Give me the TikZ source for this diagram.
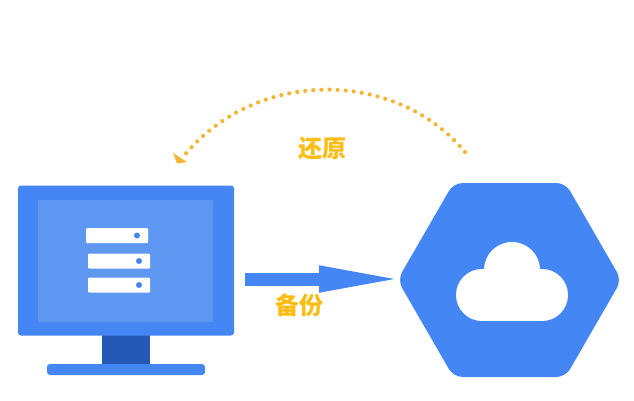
\documentclass[tikz,border=0pt]{standalone}
\usepackage{fontspec}
\usetikzlibrary{arrows.meta,shapes.geometric}
\newfontfamily\cjk{Noto Sans CJK SC}
\definecolor{hexblue}{HTML}{4486F4}
\definecolor{screenblue}{HTML}{5E97F2}
\definecolor{standblue}{HTML}{2359B5}
\definecolor{labelyellow}{HTML}{FBBC14}
\definecolor{dotyellow}{HTML}{F2B632}
\tikzset{
  label text/.style={inner sep=0pt,text=labelyellow,font=\cjk\bfseries\fontsize{24}{24}\selectfont},
  blue box/.style={inner sep=0pt,fill=hexblue,rounded corners=3pt},
  server bar/.style={inner sep=0pt,fill=white,minimum width=62pt,minimum height=15pt,rounded corners=1pt},
}
\begin{document}
\begin{tikzpicture}[x=1pt,y=-1pt]
\useasboundingbox (0,0) rectangle (634,400);

% desktop
\node[inner sep=0pt,fill=standblue,minimum width=48pt,minimum height=30pt] (stand) at (126,350) {};
\node[blue box,minimum width=216pt,minimum height=150pt] (monitor) at (126,260.5) {};
\node[inner sep=0pt,fill=screenblue,minimum width=175pt,minimum height=122pt,rounded corners=1pt] (screen) at (125.5,261) {};
\node[blue box,minimum width=158pt,minimum height=11pt] (base) at (126,369.5) {};

\foreach \n/\x/\y in {a/117/235.5,b/119/261,c/119/285}
{
  \node[server bar] (bar\n) at (\x,\y) {};
  \fill[hexblue] (\x+20,\y) circle (3pt);
}

% cloud
\node[regular polygon,regular polygon sides=6,inner sep=0pt,minimum size=224pt,fill=hexblue,rounded corners=9pt] (hex) at (509.5,280) {};
\fill[white] (512,270) circle (28pt);
\fill[white] (482,295) circle (26pt);
\fill[white] (542,295) circle (26pt);
\fill[white] (482,269) rectangle (542,321);

% backup
\coordinate (backupstart) at (245,279);
\coordinate (backupend) at (410,279);
\draw[hexblue,line width=13pt,-{Triangle[length=91pt,width=23pt]}] (backupstart) -- (backupend);
\node[label text] (backup) at (299,305) {备份};

% restore
\coordinate (restorestart) at (465,152);
\coordinate (restoreend) at (183,157);
\draw[dotyellow,line width=4.2pt,line cap=round,dash pattern=on 0pt off 8.1pt] (restorestart) .. controls (395,68) and (255,68) .. (restoreend);
\fill[dotyellow] (173,153) -- (187,162) -- (177,163.5) -- cycle;
\node[label text] (restore) at (322,148) {还原};
\end{tikzpicture}
\end{document}
